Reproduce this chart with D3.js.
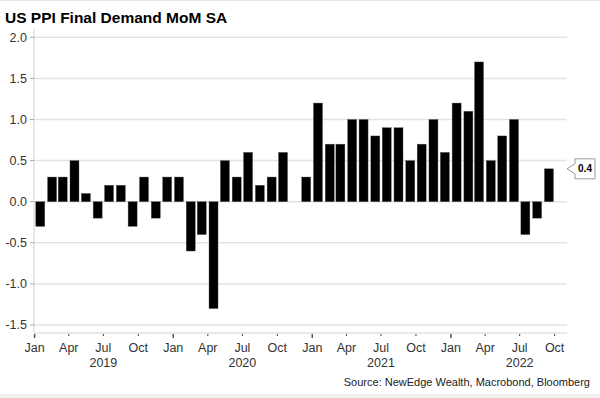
<!DOCTYPE html>
<html><head><meta charset="utf-8">
<script src="https://cdn.jsdelivr.net/npm/d3@7"></script>
<style>body{margin:0;background:#fff}svg{display:block;font-family:"Liberation Sans",Arial,sans-serif}</style>
</head><body><svg id="c" width="600" height="398"></svg>
<script>
const months = ["Jan","Feb","Mar","Apr","May","Jun","Jul","Aug","Sep","Oct","Nov","Dec"];
const years = [2019, 2020, 2021, 2022];
const values2019 = [-0.3, 0.3, 0.3, 0.5, 0.1, -0.2, 0.2, 0.2, -0.3, 0.3, -0.2, 0.3];
const values2020 = [0.3, -0.6, -0.4, -1.3, 0.5, 0.3, 0.6, 0.2, 0.3, 0.6, 0.0, 0.3];
const values2021 = [1.2, 0.7, 0.7, 1.0, 1.0, 0.8, 0.9, 0.9, 0.5, 0.7, 1.0, 0.6];
const values2022 = [1.2, 1.1, 1.7, 0.5, 0.8, 1.0, -0.4, -0.2, 0.4];
const yTicks = [-1.5, -1.0, -0.5, 0.0, 0.5, 1.0, 1.5, 2.0];
const tickMonths = ["Jan","Apr","Jul","Oct"];
const title = "US PPI Final Demand MoM SA";
const source = "Source: NewEdge Wealth, Macrobond, Bloomberg";

const allVals = [values2019, values2020, values2021, values2022];
const data = [];
allVals.forEach((arr, yi) => arr.forEach((v, mi) => data.push({date: new Date(years[yi], mi, 1), v})));

const svg = d3.select("#c");
svg.append("rect").attr("x",0).attr("y",394).attr("width",600).attr("height",4).attr("fill","#f0f0f0");
svg.append("rect").attr("x",0).attr("y",0).attr("width",600).attr("height",1).attr("fill","#e8e8e8");

const x = d3.scaleTime().domain([new Date(2019,0,1), new Date(2022,10,1)]).range([34.6, 566.4]);
const y = d3.scaleLinear().domain([-1.5, 2.0]).range([325, 37.3]);
const xL = 34, xR = 567, axisY = 333;

svg.append("text").attr("x",5).attr("y",23).attr("font-size",15.5).attr("font-weight","bold").attr("fill","#000").text(title);

// gridlines
svg.append("g").selectAll("line").data(yTicks).join("line")
  .attr("x1", xL).attr("x2", xR).attr("y1", d=>y(d)).attr("y2", d=>y(d))
  .attr("stroke","#e3e3e3").attr("stroke-width",1.5);

// y axis
svg.append("line").attr("x1",xL).attr("x2",xL).attr("y1",29).attr("y2",axisY).attr("stroke","#d4d4d4").attr("stroke-width",1);
const yg = svg.append("g");
yg.selectAll("line").data(yTicks).join("line").attr("x1",30).attr("x2",xL).attr("y1",d=>y(d)).attr("y2",d=>y(d)).attr("stroke","#aaa");
yg.selectAll("text").data(yTicks).join("text").attr("x",27).attr("y",d=>y(d)).attr("dy","0.35em")
  .attr("text-anchor","end").attr("font-size",12.5).attr("fill","#333").text(d=>d3.format(".1f")(d).replace("−","-"));

// bars
const bw = 9;
svg.append("g").selectAll("rect").data(data).join("rect")
  .attr("x", d => x(d.date) + 1.2)
  .attr("width", bw)
  .attr("y", d => Math.min(y(d.v), y(0)))
  .attr("height", d => Math.abs(y(d.v) - y(0)))
  .attr("fill","#000").attr("stroke","#555").attr("stroke-width",0.4);

// x axis
svg.append("line").attr("x1",xL).attr("x2",xR).attr("y1",axisY).attr("y2",axisY).attr("stroke","#d4d4d4");
const xTickDates = [];
years.forEach(yr => [0,3,6,9].forEach(m => xTickDates.push(new Date(yr, m, 1))));
const xg = svg.append("g");
xg.selectAll("line").data(xTickDates).join("line")
  .attr("x1", d=>x(d)).attr("x2", d=>x(d)).attr("y1", axisY+1).attr("y2", d=> d.getMonth()===0 ? axisY+5 : axisY+3)
  .attr("stroke", d => d.getMonth()===0 ? "#555" : "#444").attr("stroke-width", d=> d.getMonth()===0 ? 1.5 : 1);
xg.selectAll("text").data(xTickDates).join("text")
  .attr("x", d=>x(d)).attr("y", 351.5).attr("text-anchor","middle").attr("font-size",12.5).attr("fill","#333")
  .text(d => months[d.getMonth()]);
svg.append("g").selectAll("text").data(years).join("text")
  .attr("x", d => x(new Date(d, 6, 1))).attr("y", 366.5).attr("text-anchor","middle").attr("font-size",12.5).attr("fill","#333")
  .text(d => d);

svg.append("text").attr("x",590).attr("y",385.5).attr("text-anchor","end").attr("font-size",11).attr("fill","#222").text(source);

// callout for last value
const last = data[data.length-1];
const cy = y(last.v), tipX = 567;
const bx0 = 575, bx1 = 595, h2 = 10;
svg.append("path")
  .attr("d", `M${tipX},${cy} L${bx0},${cy-5} L${bx0},${cy-h2} L${bx1},${cy-h2} L${bx1},${cy+h2} L${bx0},${cy+h2} L${bx0},${cy+5} Z`)
  .attr("fill","#fff").attr("stroke","#999").attr("stroke-width",1);
svg.append("text").attr("x",(bx0+bx1)/2).attr("y",cy).attr("dy","0.35em").attr("text-anchor","middle")
  .attr("font-size",10).attr("font-weight","bold").attr("fill","#000").text(d3.format(".1f")(last.v));
</script></body></html>
